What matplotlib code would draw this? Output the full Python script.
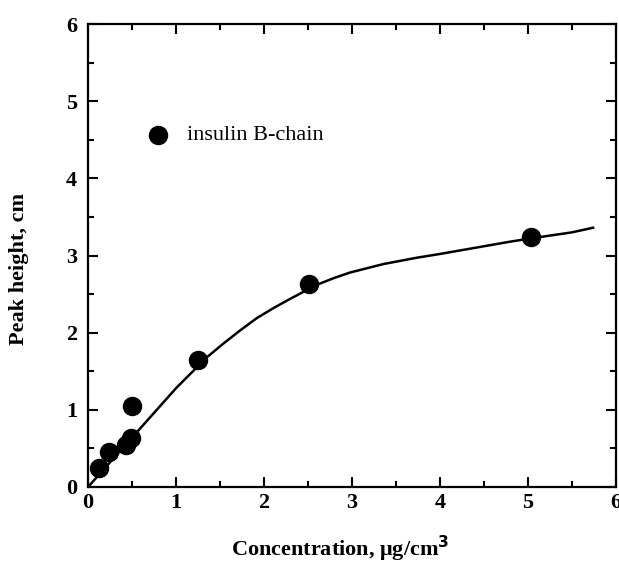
import matplotlib
matplotlib.use("Agg")
import matplotlib.pyplot as plt
from matplotlib.ticker import MultipleLocator

# measured points
conc = [0.13, 0.24, 0.43, 0.49, 0.50, 1.25, 2.51, 5.03]
height = [0.25, 0.45, 0.55, 0.64, 1.05, 1.64, 2.63, 3.24]

# fitted curve
curve_x = [0.0, 0.5, 1.0, 1.35, 1.54, 1.73, 1.92, 2.11, 2.30, 2.60, 2.80, 2.98, 3.36, 3.73, 4.0, 4.4, 4.8, 5.2, 5.5, 5.74]
curve_y = [0.0, 0.64, 1.28, 1.68, 1.86, 2.03, 2.19, 2.32, 2.44, 2.62, 2.71, 2.78, 2.89, 2.97, 3.02, 3.10, 3.18, 3.25, 3.30, 3.36]

legend_label = "insulin B-chain"
x_ticks = [0, 1, 2, 3, 4, 5, 6]
y_ticks = [0, 1, 2, 3, 4, 5, 6]

plt.rcParams['font.family'] = ['Liberation Serif', 'DejaVu Serif']

fig = plt.figure(figsize=(6.19, 5.64), dpi=100)
ax = fig.add_axes([88/619, 1-487/564, (616-88)/619, (487-24)/564])

ax.plot(curve_x, curve_y, color='black', lw=1.8, zorder=2, solid_joinstyle='round')
ax.plot(conc, height, 'o', color='black', markersize=13, zorder=3)

ax.set_xlim(0, 6)
ax.set_ylim(0, 6)
ax.set_xticks(x_ticks)
ax.set_yticks(y_ticks)
ax.xaxis.set_minor_locator(MultipleLocator(0.5))
ax.yaxis.set_minor_locator(MultipleLocator(0.5))
ax.tick_params(which='both', direction='in', top=True, right=True, width=1.5)
ax.tick_params(which='major', length=7, labelsize=16)
ax.tick_params(axis='x', which='major', pad=4)
ax.tick_params(axis='y', which='major', pad=8)
ax.tick_params(which='minor', length=4)
for lab in ax.get_xticklabels() + ax.get_yticklabels():
    lab.set_fontweight('bold')
for s in ax.spines.values():
    s.set_linewidth(1.6)

ax.set_xlabel("Concentration, \u03bcg/cm$^{\\mathbf{3}}$", fontsize=16, fontweight='bold')
ax.set_ylabel("Peak height, cm", fontsize=16, fontweight='bold')
ax.xaxis.set_label_coords(0.477, -0.100)
ax.yaxis.set_label_coords(-0.112, 0.470)

# legend
ax.plot([0.79], [4.56], 'o', color='black', markersize=13)
ax.text(1.12, 4.56, legend_label, fontsize=16, va='center', ha='left')

fig.savefig("out.png", dpi=100)
